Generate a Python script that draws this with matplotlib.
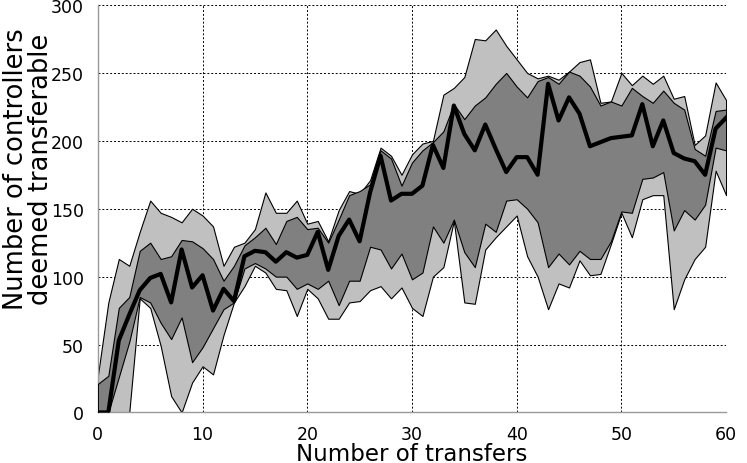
import numpy as np
import matplotlib
matplotlib.use("Agg")
import matplotlib.pyplot as plt

# number of transfers 0..60
transfers = np.arange(61)

median = [0, 0, 53, 72, 90, 99, 102, 81, 120, 92,
          101, 75, 91, 82, 115, 119, 118, 111, 118, 114,
          116, 133, 105, 130, 142, 126, 162, 189, 156, 161,
          161, 167, 197, 180, 226, 205, 193, 212, 194, 177,
          188, 188, 175, 242, 215, 232, 220, 196, 199, 202,
          203, 204, 227, 196, 215, 191, 187, 185, 175, 209,
          217]

outer_hi = [27, 81, 113, 108, 133, 156, 147, 144, 140, 150,
            145, 137, 108, 122, 125, 135, 162, 147, 147, 156,
            139, 141, 126, 149, 163, 161, 171, 195, 189, 175,
            190, 198, 200, 234, 239, 247, 275, 274, 282, 270,
            260, 250, 246, 248, 245, 251, 258, 260, 228, 229,
            250, 241, 248, 242, 248, 231, 233, 197, 204, 243,
            230]

inner_hi = [21, 27, 77, 85, 119, 125, 113, 115, 127, 126,
            121, 113, 97, 108, 123, 129, 136, 124, 141, 144,
            135, 136, 125, 142, 160, 163, 168, 193, 187, 167,
            184, 193, 199, 207, 227, 216, 226, 232, 242, 250,
            240, 232, 244, 247, 242, 251, 248, 240, 226, 229,
            226, 239, 233, 228, 237, 228, 223, 194, 189, 222,
            223]

inner_lo = [0, 0, 26, 52, 85, 81, 66, 54, 70, 37,
            48, 62, 76, 81, 106, 110, 106, 100, 100, 91,
            95, 91, 97, 79, 97, 97, 122, 120, 106, 117,
            98, 103, 137, 125, 142, 118, 107, 139, 133, 156,
            157, 150, 140, 107, 117, 109, 119, 113, 113, 126,
            148, 147, 172, 173, 177, 134, 149, 142, 153, 195,
            193]

outer_lo = [0, 0, 0, 0, 84, 77, 49, 12, 0, 22,
            34, 28, 57, 81, 93, 108, 103, 91, 90, 71,
            91, 84, 69, 69, 81, 82, 90, 93, 84, 92,
            77, 71, 100, 107, 141, 81, 80, 120, 129, 137,
            145, 115, 100, 76, 95, 92, 112, 101, 102, 124,
            147, 129, 157, 160, 160, 76, 98, 113, 122, 178,
            160]

fig = plt.figure(figsize=(7.47, 4.64), dpi=100)
ax = fig.add_axes([0.131, 0.109, 0.841, 0.878])

ax.fill_between(transfers, outer_lo, outer_hi, facecolor='#c0c0c0',
                edgecolor='black', linewidth=0.8, zorder=2)
ax.fill_between(transfers, inner_lo, inner_hi, facecolor='#808080',
                edgecolor='black', linewidth=0.8, zorder=3)
ax.plot(transfers, median, color='black', linewidth=3, zorder=4)

ax.set_xlim(0, 60)
ax.set_ylim(0, 300)
ax.set_xticks(range(0, 61, 10))
ax.set_yticks(range(0, 301, 50))
ax.tick_params(length=0, labelsize=12.5)
ax.tick_params(axis='x', pad=9)
ax.tick_params(axis='y', pad=10)

ax.grid(True, color='black', linestyle=(0, (2, 2)), linewidth=0.7, zorder=1)
ax.set_axisbelow(True)
for side in ['top', 'right']:
    ax.spines[side].set_visible(False)
for side in ['left', 'bottom']:
    ax.spines[side].set_color('#999999')
    ax.spines[side].set_linewidth(1.0)

ax.set_xlabel('Number of transfers', fontsize=16.5, labelpad=-1)
ax.set_ylabel('Number of controllers\ndeemed transferable', fontsize=18.5,
              linespacing=0.95)
ax.yaxis.set_label_coords(-0.07, 0.6)

fig.savefig('out.png', dpi=100)
